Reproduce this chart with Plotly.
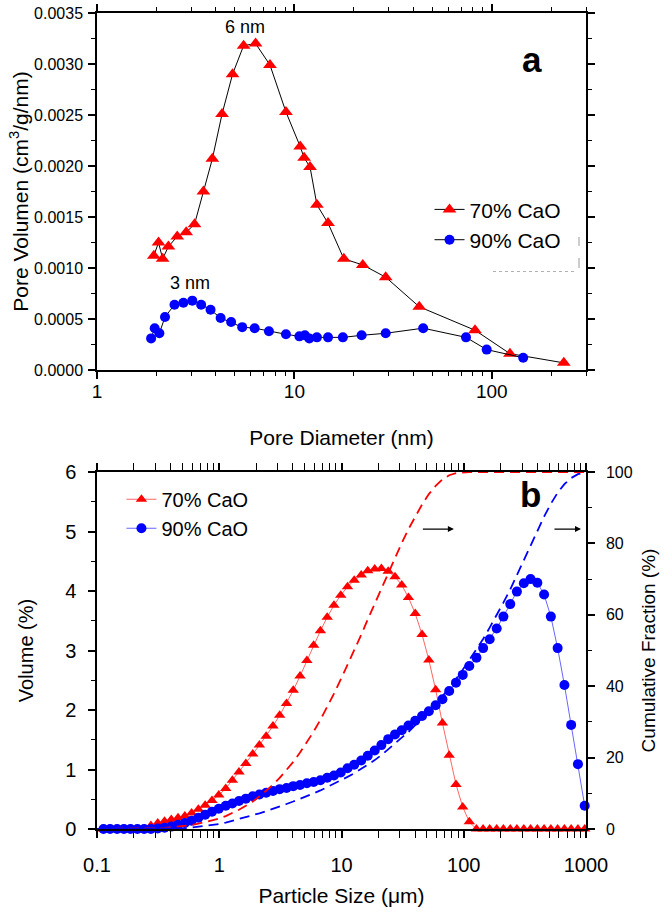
import math
import plotly.graph_objects as go

# ---- panel a : pore size distribution (BJH) ----
pore_d_70 = [1.94, 2.05, 2.15, 2.30, 2.55, 2.83, 3.12, 3.46, 3.84, 4.30, 4.86, 5.53, 6.36, 7.52,
             9.06, 10.7, 11.2, 12.0, 13.0, 14.8, 17.8, 22.2, 29.0, 42.9, 82.2, 123.6, 231.6]
pore_v_70 = [0.00112, 0.00125, 0.00109, 0.00121, 0.00131, 0.00135, 0.00143, 0.00175, 0.00207,
             0.00251, 0.00290, 0.00318, 0.00320, 0.00299, 0.00253, 0.00219, 0.00208, 0.00199,
             0.00162, 0.00144, 0.00109, 0.00103, 0.00091, 0.00062, 0.00039, 0.00016, 0.00007]
pore_d_90 = [1.88, 1.96, 2.07, 2.21, 2.47, 2.74, 3.04, 3.37, 3.76, 4.23, 4.78, 5.44, 6.29, 7.43,
             9.06, 10.6, 11.3, 11.9, 13.0, 14.8, 17.6, 21.9, 29.0, 44.9, 74.0, 94.2, 144.2]
pore_v_90 = [0.00031, 0.00041, 0.00036, 0.00052, 0.00064, 0.00066, 0.00068, 0.00064, 0.00059,
             0.00051, 0.00047, 0.00042, 0.00041, 0.00038, 0.00035, 0.00033, 0.00034, 0.00031,
             0.00032, 0.00032, 0.00032, 0.00034, 0.00036, 0.00041, 0.00032, 0.00020, 0.00012]

# ---- panel b : particle size distribution (laser diffraction bins) ----
size_um = [0.0995, 0.113, 0.128, 0.146, 0.166, 0.188, 0.214, 0.243, 0.276, 0.314,
           0.357, 0.405, 0.460, 0.523, 0.594, 0.675, 0.767, 0.872, 0.991, 1.13,
           1.28, 1.45, 1.65, 1.88, 2.13, 2.42, 2.75, 3.12, 3.55, 4.03,
           4.58, 5.21, 5.92, 6.72, 7.64, 8.68, 9.86, 11.2, 12.7, 14.5,
           16.4, 18.7, 21.2, 24.1, 27.4, 31.1, 35.3, 40.1, 45.6, 51.8,
           58.9, 66.9, 76.0, 86.4, 98.1, 111, 127, 144, 163, 186,
           211, 240, 272, 310, 352, 400, 454, 516, 586, 666,
           756, 859, 976]
vol_70 = [0, 0, 0, 0, 0, 0, 0, 0, 0.06, 0.10,
          0.13, 0.16, 0.19, 0.22, 0.27, 0.33, 0.40, 0.48, 0.57, 0.68,
          0.82, 0.96, 1.10, 1.26, 1.41, 1.56, 1.73, 1.91, 2.11, 2.33,
          2.57, 2.83, 3.09, 3.33, 3.56, 3.76, 3.93, 4.07, 4.18, 4.27,
          4.34, 4.37, 4.38, 4.33, 4.24, 4.10, 3.89, 3.62, 3.27, 2.84,
          2.34, 1.78, 1.24, 0.75, 0.37, 0.12, 0, 0, 0, 0,
          0, 0, 0, 0, 0, 0, 0, 0, 0, 0,
          0, 0, 0]
vol_90 = [0, 0, 0, 0, 0, 0, 0, 0, 0, 0.01,
          0.02, 0.04, 0.07, 0.10, 0.14, 0.19, 0.24, 0.29, 0.34, 0.39,
          0.43, 0.47, 0.51, 0.55, 0.58, 0.61, 0.64, 0.67, 0.69, 0.72,
          0.74, 0.77, 0.79, 0.82, 0.86, 0.90, 0.95, 1.02, 1.08, 1.15,
          1.23, 1.32, 1.41, 1.51, 1.59, 1.66, 1.74, 1.82, 1.90, 1.98,
          2.08, 2.18, 2.32, 2.46, 2.59, 2.74, 2.88, 3.04, 3.19, 3.37,
          3.57, 3.78, 3.99, 4.13, 4.20, 4.14, 3.94, 3.57, 3.04, 2.42,
          1.75, 1.09, 0.39]
cum_70 = [0, 0, 0, 0, 0, 0, 0, 0, 0.1, 0.2,
          0.3, 0.5, 0.6, 0.9, 1.1, 1.5, 1.9, 2.3, 2.9, 3.6,
          4.4, 5.4, 6.5, 7.7, 9.1, 10.7, 12.4, 14.3, 16.5, 18.8,
          21.4, 24.2, 27.3, 30.6, 34.2, 37.9, 41.9, 45.9, 50.1, 54.4,
          58.7, 63.1, 67.5, 71.8, 76.0, 80.1, 84.0, 87.6, 90.9, 93.8,
          96.1, 97.9, 99.1, 99.7, 99.9, 100, 100, 100, 100, 100,
          100, 100, 100, 100, 100, 100, 100, 100, 100, 100,
          100, 100, 100]
cum_90 = [0, 0, 0, 0, 0, 0, 0, 0, 0, 0.0,
          0.0, 0.1, 0.1, 0.2, 0.4, 0.6, 0.8, 1.1, 1.4, 1.8,
          2.3, 2.7, 3.2, 3.8, 4.4, 5.0, 5.6, 6.3, 7.0, 7.7,
          8.4, 9.2, 10.0, 10.8, 11.7, 12.6, 13.5, 14.6, 15.6, 16.8,
          18.0, 19.3, 20.7, 22.3, 23.8, 25.5, 27.2, 29.1, 31.0, 32.9,
          35.0, 37.2, 39.5, 42.0, 44.6, 47.3, 50.2, 53.2, 56.4, 59.8,
          63.4, 67.1, 71.1, 75.3, 79.5, 83.6, 87.5, 91.1, 94.2, 96.6,
          98.3, 99.4, 99.8]

labels = ["70% CaO", "90% CaO"]
RED = "#ff0000"
BLUE = "#0000ff"
FONT = "Liberation Sans, Arial, sans-serif"

fig = go.Figure()

# panel a
fig.add_trace(go.Scatter(x=pore_d_70, y=pore_v_70, mode="lines+markers", name=labels[0],
                         line=dict(color="black", width=1),
                         marker=dict(symbol="triangle-up", color=RED, size=12),
                         xaxis="x", yaxis="y", legend="legend", cliponaxis=False))
fig.add_trace(go.Scatter(x=pore_d_90, y=pore_v_90, mode="lines+markers", name=labels[1],
                         line=dict(color="black", width=1),
                         marker=dict(symbol="circle", color=BLUE, size=10),
                         xaxis="x", yaxis="y", legend="legend", cliponaxis=False))

# panel b : cumulative curves (right axis)
fig.add_trace(go.Scatter(x=size_um, y=cum_70, mode="lines", showlegend=False,
                         line=dict(color=RED, width=1.8, dash="10px,6px"),
                         xaxis="x2", yaxis="y3"))
fig.add_trace(go.Scatter(x=size_um, y=cum_90, mode="lines", showlegend=False,
                         line=dict(color=BLUE, width=1.8, dash="10px,6px"),
                         xaxis="x2", yaxis="y3"))
# panel b : volume distributions
fig.add_trace(go.Scatter(x=size_um, y=vol_70, mode="lines+markers", name=labels[0],
                         line=dict(color="rgba(255,0,0,0.6)", width=1),
                         marker=dict(symbol="triangle-up", color=RED, size=10),
                         xaxis="x2", yaxis="y2", legend="legend2", cliponaxis=False))
fig.add_trace(go.Scatter(x=size_um, y=vol_90, mode="lines+markers", name=labels[1],
                         line=dict(color="rgba(0,0,255,0.6)", width=1),
                         marker=dict(symbol="circle", color=BLUE, size=10),
                         xaxis="x2", yaxis="y2", legend="legend2", cliponaxis=False))

axis_style = dict(showline=True, linecolor="black", linewidth=1.5, ticks="outside",
                  ticklen=7, tickwidth=1.5, tickcolor="black", showgrid=False,
                  zeroline=False, automargin=False,
                  tickfont=dict(family=FONT, color="black"))
log_minor_a = [m * 10 ** e for e in range(0, 3) for m in range(2, 10) if m * 10 ** e <= 300]
log_minor_b = [m * 10 ** e for e in range(-1, 3) for m in range(2, 10)]

fig.update_layout(
    width=664, height=914,
    margin=dict(l=97, r=78, t=13, b=85, autoexpand=False),
    paper_bgcolor="white", plot_bgcolor="white",
    font=dict(family=FONT, color="black"),
    xaxis=dict(axis_style, type="log", range=[0, math.log10(300)], anchor="y", mirror="allticks",
               tickvals=[1, 10, 100], ticktext=["1", "10", "100"], tickfont_size=19,
               ticklabelstandoff=-4,
               minor=dict(ticks="outside", ticklen=4, tickwidth=1, tickvals=log_minor_a),
               title=dict(text="Pore Diameter (nm)", font=dict(size=21), standoff=30)),
    yaxis=dict(axis_style, domain=[0.5625, 1], range=[0, 0.0035], dtick=0.0005, tickformat=".4f",
               anchor="x", mirror="allticks", tickfont_size=16, ticklabelstandoff=2,
               minor=dict(ticks="outside", ticklen=4, tickwidth=1, dtick=0.00025),
               title=dict(text="Pore Volumen (cm<sup>3</sup>/g/nm)", font=dict(size=21), standoff=0)),
    xaxis2=dict(axis_style, type="log", range=[-1, 3], anchor="y2", mirror="allticks",
                tickvals=[0.1, 1, 10, 100, 1000], ticktext=["0.1", "1", "10", "100", "1000"],
                tickfont_size=20, ticklabelstandoff=10,
                minor=dict(ticks="outside", ticklen=4, tickwidth=1, tickvals=log_minor_b),
                title=dict(text="Particle Size (\u03bcm)", font=dict(size=21), standoff=14)),
    yaxis2=dict(axis_style, domain=[0, 0.4375], range=[0, 6], dtick=1, anchor="x2",
                tickfont_size=20, ticklabelstandoff=8,
                minor=dict(ticks="outside", ticklen=4, tickwidth=1, dtick=0.5),
                title=dict(text="Volume (%)", font=dict(size=20), standoff=26)),
    yaxis3=dict(axis_style, range=[0, 100], dtick=20, anchor="x2", overlaying="y2", side="right",
                tickfont_size=16, ticklabelstandoff=8,
                minor=dict(ticks="outside", ticklen=4, tickwidth=1, dtick=10),
                title=dict(text="Cumulative Fraction (%)", font=dict(size=19), standoff=10)),
    legend=dict(x=0.68, y=0.784, xanchor="left", yanchor="top", bgcolor="rgba(0,0,0,0)",
                font=dict(size=21, family=FONT), tracegroupgap=0),
    legend2=dict(x=0.05, y=0.428, xanchor="left", yanchor="top", bgcolor="rgba(0,0,0,0)",
                 font=dict(size=20, family=FONT), tracegroupgap=0),
)

# peak labels and panel letters
fig.add_annotation(x=math.log10(5.64), y=0.00336, xref="x", yref="y", text="6 nm",
                   showarrow=False, font=dict(size=18))
fig.add_annotation(x=math.log10(2.97), y=0.00085, xref="x", yref="y", text="3 nm",
                   showarrow=False, font=dict(size=18))
fig.add_annotation(x=0.914, y=0.969, xref="paper", yref="paper", text="<b>a</b>",
                   showarrow=False, font=dict(size=35))
fig.add_annotation(x=0.912, y=0.4105, xref="paper", yref="paper", text="<b>b</b>",
                   showarrow=False, font=dict(size=35))

# arrows pointing to the cumulative (right) axis
arrow_y = 84
for x0, x1 in [(45, 83), (537, 910)]:
    fig.add_annotation(x=math.log10(x1), y=arrow_y, ax=math.log10(x0), ay=arrow_y,
                       xref="x2", yref="y3", axref="x2", ayref="y3", text="",
                       showarrow=True, arrowhead=2, arrowsize=1, arrowwidth=1.2,
                       arrowcolor="black")

# faint remnants of a legend frame in panel a
frame = dict(type="line", xref="paper", yref="paper", line=dict(color="#9a9a9a", width=1))
fig.add_shape(frame, x0=0.9857, x1=0.9857, y0=0.7145, y1=0.7255)
fig.add_shape(frame, x0=0.9857, x1=0.9857, y0=0.6875, y1=0.6998)
fig.add_shape(dict(frame, line=dict(color="#b0b0b0", width=1, dash="dot")),
              x0=0.8098, x1=0.9816, y0=0.6832, y1=0.6832)

# page body has a default 8px margin; remove it so the figure fills the window
fig.write_html("out.html", config={"displayModeBar": False},
               post_script="document.body.style.margin='0';document.body.style.overflow='hidden';")
